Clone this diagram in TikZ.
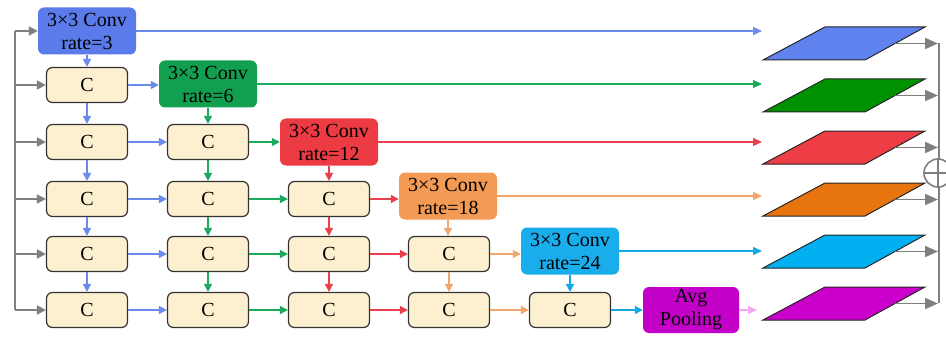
\documentclass[tikz,border=0pt]{standalone}
\usepackage{fontspec}
\setmainfont{Liberation Serif}
\usetikzlibrary{arrows.meta}
\definecolor{cblue}{HTML}{5B7BEA}
\definecolor{ablue}{HTML}{6A8BEA}
\definecolor{pblue}{HTML}{5F82EE}
\definecolor{cgreen}{HTML}{12A050}
\definecolor{agreen}{HTML}{1BAA5C}
\definecolor{pgreen}{HTML}{009100}
\definecolor{cred}{HTML}{EC3B42}
\definecolor{ared}{HTML}{E8414D}
\definecolor{pred}{HTML}{EE3D45}
\definecolor{corange}{HTML}{F39A55}
\definecolor{aorange}{HTML}{F2A56C}
\definecolor{porange}{HTML}{E8740F}
\definecolor{ccyan}{HTML}{1AADEC}
\definecolor{acyan}{HTML}{12A8E2}
\definecolor{pcyan}{HTML}{00B0F0}
\definecolor{cmag}{HTML}{C200C8}
\definecolor{pmag}{HTML}{CC00CC}
\definecolor{apink}{HTML}{F2A8F2}
\definecolor{cream}{HTML}{FDF0D0}
\definecolor{gline}{HTML}{7F7F7F}
\colorlet{col1}{ablue}
\colorlet{col2}{agreen}
\colorlet{col3}{ared}
\colorlet{col4}{aorange}
\colorlet{col5}{acyan}
\begin{document}
\begin{tikzpicture}[x=1pt,y=-1pt,
  conv/.style={rounded corners=6pt, minimum width=98pt, minimum height=47pt, inner sep=0pt, align=center, font=\fontsize{20}{23}\selectfont},
  cbox/.style={draw=black!80, line width=1.2pt, fill=cream, rounded corners=6pt, minimum width=81pt, minimum height=35pt, inner sep=0pt, font=\fontsize{20}{23}\selectfont},
  arr/.style={line width=1.6pt, -{Triangle[length=8pt,width=8pt]}},
  garr/.style={line width=2pt, draw=gline, -{Triangle[length=9pt,width=9pt,fill=gline]}},
  oarr/.style={line width=1.8pt, draw=gline, -{Triangle[length=13pt,width=11pt,fill=gline]}},
  para/.style={draw=black!85, line width=1pt}]
\useasboundingbox (0,0) rectangle (946,337);

% conv boxes
\node[conv, fill=cblue]   (k1) at (87,31)  {3×3 Conv\\rate=3};
\node[conv, fill=cgreen]  (k2) at (208,84) {3×3 Conv\\rate=6};
\node[conv, fill=cred]    (k3) at (329,142) {3×3 Conv\\rate=12};
\node[conv, fill=corange] (k4) at (448,196) {3×3 Conv\\rate=18};
\node[conv, fill=ccyan]   (k5) at (570,251) {3×3 Conv\\rate=24};
\node[conv, fill=cmag, minimum width=96pt, minimum height=46pt] (avg) at (691,310) {Avg\\Pooling};

% C boxes
\foreach \r/\y in {1/85,2/142,3/199,4/254,5/310} {
  \foreach \j/\x in {1/87,2/208,3/329,4/449,5/570} {
    \ifnum\j>\r\relax\else
      \node[cbox] (c\r\j) at (\x,\y) {C};
    \fi
  }
}

% vertical arrows
\foreach \j in {1,...,5} {
  \draw[arr, col\j] (k\j.south) -- (k\j.south |- c\j\j.north);
  \ifnum\j<5
    \foreach \r in {\j,...,4} {
      \pgfmathtruncatemacro\n{\r+1}
      \draw[arr, col\j] (c\r\j.south) -- (c\n\j.north);
    }
  \fi
}

% horizontal arrows
\foreach \r in {1,...,5} {
  \foreach \j in {1,...,\r} {
    \pgfmathtruncatemacro\n{\j+1}
    \ifnum\j<\r
      \draw[arr, col\j] (c\r\j.east) -- (c\r\n.west);
    \else
      \ifnum\r<5
        \draw[arr, col\j] (c\r\j.east) -- (k\n.west |- c\r\j.east);
      \else
        \draw[arr, col\j] (c\r\j.east) -- (avg.west |- c\r\j.east);
      \fi
    \fi
  }
}

% gray input line
\coordinate (gtop) at (15,31);
\coordinate (gbot) at (15,310);
\draw[line width=2pt, gline] (gtop) -- (gbot);
\draw[garr] (gtop) -- (k1.west);
\foreach \r in {1,...,5} {
  \draw[garr] (gtop |- c\r1.west) -- (c\r1.west);
}

% long arrows to feature maps
\foreach \j/\c in {1/ablue,2/agreen,3/ared,4/aorange,5/acyan} {
  \coordinate (e\j) at (762,0 |- k\j.east);
  \draw[line width=1.4pt, \c, -{Triangle[length=9pt,width=8pt]}] (k\j.east) -- (e\j);
}
\coordinate (e6) at (757,310);
\draw[line width=1.4pt, apink, -{Triangle[length=9pt,width=8pt]}] (avg.east) -- (e6);

% feature maps (parallelograms)
\foreach \k/\c in {1/pblue,2/pgreen,3/pred,4/porange,5/pcyan,6/pmag} {
  \pgfmathsetmacro\T{27+52*(\k-1)}
  \pgfmathsetmacro\B{\T+33}
  \pgfmathsetmacro\M{\T+16.5}
  \draw[para, fill=\c] (763,\B) -- (865,\B) -- (925,\T) -- (825,\T) -- cycle;
  \coordinate (p\k) at (895,\M);
  \coordinate (o\k) at (938,\M);
}

% sum line and circle
\draw[line width=1.8pt, gline] (939,43) -- (939,303);
\foreach \k in {1,...,6} {
  \draw[oarr] (p\k) -- (o\k);
}
\node[circle, draw=gline, line width=1.6pt, fill=white, minimum size=28pt, inner sep=0pt] (sum) at (938,173) {};
\draw[line width=1.6pt, gline] (sum.west) -- (sum.east);
\draw[line width=1.6pt, gline] (sum.north) -- (sum.south);
\end{tikzpicture}
\end{document}
